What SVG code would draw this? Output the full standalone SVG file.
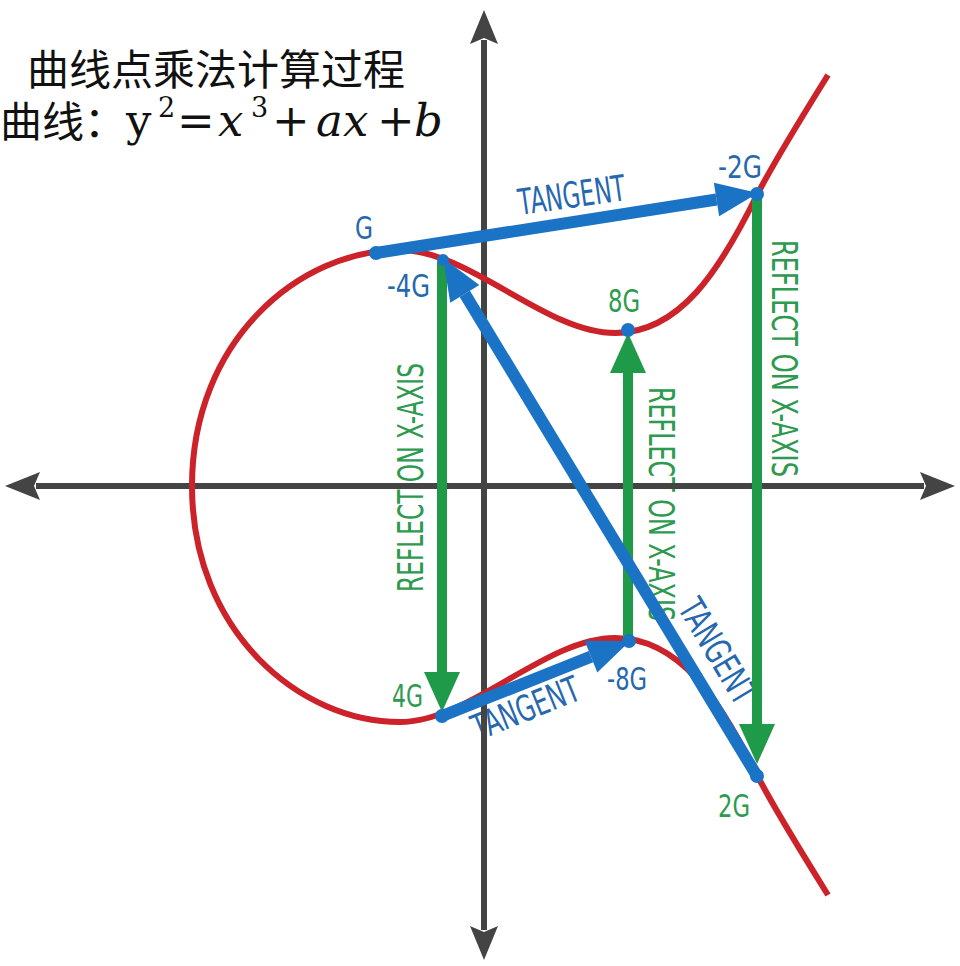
<svg xmlns="http://www.w3.org/2000/svg" width="960" height="966" viewBox="0 0 960 966">
<style>
.cjk{font-family:"Noto Sans CJK SC","Noto Sans",sans-serif;font-size:42px;fill:#111}
.m{font-family:"DejaVu Serif","Liberation Serif",serif;font-size:45px;fill:#111}
.mi{font-style:italic}
.sup{font-size:27px}
.lb{font-family:"DejaVu Sans Condensed","DejaVu Sans",sans-serif;font-stretch:condensed;font-size:32px}
.bl{fill:#2568ae}
.gr{fill:#2e9a50}
.big{font-size:36px}
.axis{stroke:#444;stroke-width:6;fill:none}
.axh{fill:#444}
.curve{stroke:#cc2229;stroke-width:6;fill:none}
.blue{stroke:#1b73c6;stroke-width:12;fill:none}
.green{stroke:#1f9a48;stroke-width:10;fill:none}
.dot{fill:#1b73c6}
</style>
<defs>
<marker id="hb" markerUnits="userSpaceOnUse" markerWidth="42" markerHeight="34" refX="0" refY="17" orient="auto" overflow="visible"><path d="M0,0 L42,17 L0,34 z" fill="#1b73c6"/></marker>
<marker id="hg" markerUnits="userSpaceOnUse" markerWidth="40" markerHeight="36" refX="0" refY="18" orient="auto" overflow="visible"><path d="M0,0 L40,18 L0,36 z" fill="#1f9a48"/></marker>
</defs>
<rect width="960" height="966" fill="#fff"/>

<g id="title">
<text class="cjk" x="27" y="85">曲线点乘法计算过程</text>
<text class="cjk" x="0" y="137">曲线：</text>
<text class="m"><tspan x="126" y="136">y</tspan><tspan class="sup" x="158" y="117">2</tspan><tspan x="177" y="136">=</tspan><tspan class="mi" x="218" y="136">x</tspan><tspan class="sup" x="251" y="117">3</tspan><tspan x="272" y="136">+</tspan><tspan class="mi" x="316" y="136">a</tspan><tspan class="mi" x="343" y="136">x</tspan><tspan x="377" y="136">+</tspan><tspan class="mi" x="414" y="136">b</tspan></text>
</g>

<g id="edge-labels">
<text class="lb big bl" transform="translate(520,215) rotate(-8)" textLength="108" lengthAdjust="spacingAndGlyphs">TANGENT</text>
<text class="lb big bl" transform="translate(478,741) rotate(-22)" textLength="113" lengthAdjust="spacingAndGlyphs">TANGENT</text>
<text class="lb big bl" transform="translate(677,608) rotate(59)" textLength="116" lengthAdjust="spacingAndGlyphs">TANGENT</text>
<text class="lb big gr" transform="translate(423,592) rotate(-90)" textLength="229" lengthAdjust="spacingAndGlyphs">REFLECT ON X-AXIS</text>
<text class="lb big gr" transform="translate(649,387) rotate(90)" textLength="234" lengthAdjust="spacingAndGlyphs">REFLECT ON X-AXIS</text>
<text class="lb big gr" transform="translate(772,240) rotate(90)" textLength="237" lengthAdjust="spacingAndGlyphs">REFLECT ON X-AXIS</text>
</g>

<g id="axes">
<line class="axis" x1="36" y1="486" x2="924" y2="486"/>
<line class="axis" x1="484" y1="40" x2="484" y2="930"/>
<polygon class="axh" points="5,486 40,472 34,486 40,500"/>
<polygon class="axh" points="955,486 920,472 926,486 920,500"/>
<polygon class="axh" points="484,10 470,44 484,38 498,44"/>
<polygon class="axh" points="484,960 470,926 484,932 498,926"/>
</g>

<g id="curve">
<path class="curve" d="M828,75 C800,120 775,160 757,195 C720,270 680,333 615,333 C545,333 470,250 400,250 C300,250 192,340 192,486 C192,632 300,722 400,722 C470,722 545,638 615,638 C680,638 720,700 757,775 C775,810 800,850 828,895"/>
</g>

<g id="connectors">
<line class="green" x1="442" y1="262" x2="442" y2="672" marker-end="url(#hg)"/>
<line class="green" x1="628" y1="641" x2="628" y2="373" marker-end="url(#hg)"/>
<line class="green" x1="757" y1="195" x2="757" y2="724" marker-end="url(#hg)"/>
<line class="blue" x1="376" y1="253" x2="716.5" y2="199.5" marker-end="url(#hb)"/>
<line class="blue" x1="757" y1="776" x2="464.8" y2="293.9" marker-end="url(#hb)"/>
<line class="blue" x1="442" y1="716" x2="591" y2="656.6" marker-end="url(#hb)"/>
</g>

<g id="node-G"><circle class="dot" cx="376" cy="253" r="7"/><text class="lb bl" x="355" y="239" textLength="18" lengthAdjust="spacingAndGlyphs">G</text></g>
<g id="node-m2G"><circle class="dot" cx="757" cy="194" r="7"/><text class="lb bl" x="718" y="178" textLength="44" lengthAdjust="spacingAndGlyphs">-2G</text></g>
<g id="node-m4G"><circle class="dot" cx="443" cy="260" r="6"/><text class="lb bl" x="387" y="297" textLength="43" lengthAdjust="spacingAndGlyphs">-4G</text></g>
<g id="node-8G"><circle class="dot" cx="628" cy="330" r="7"/><text class="lb gr" x="608" y="312" textLength="32" lengthAdjust="spacingAndGlyphs">8G</text></g>
<g id="node-4G"><circle class="dot" cx="442" cy="716" r="7"/><text class="lb gr" x="392" y="707" textLength="31" lengthAdjust="spacingAndGlyphs">4G</text></g>
<g id="node-m8G"><circle class="dot" cx="629" cy="641" r="7"/><text class="lb bl" x="607" y="690" textLength="40" lengthAdjust="spacingAndGlyphs">-8G</text></g>
<g id="node-2G"><circle class="dot" cx="757" cy="776" r="7"/><text class="lb gr" x="718" y="817" textLength="32" lengthAdjust="spacingAndGlyphs">2G</text></g>
</svg>
